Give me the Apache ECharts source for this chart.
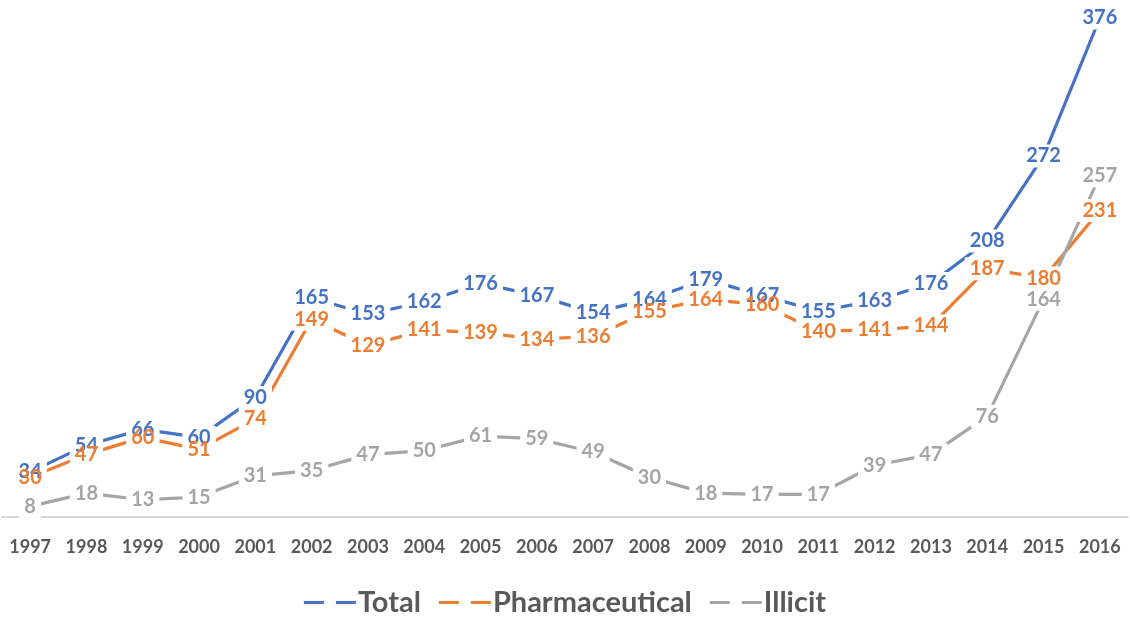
<!DOCTYPE html>
<html>
<head>
<meta charset="utf-8">
<script src="https://cdn.jsdelivr.net/npm/echarts@6/dist/echarts.min.js"></script>
<style>
html,body{margin:0;padding:0;background:#fff;}
#chart{width:1130px;height:617px;}
</style>
</head>
<body>
<div id="chart"></div>
<script>
const years = ['1997','1998','1999','2000','2001','2002','2003','2004','2005','2006','2007','2008','2009','2010','2011','2012','2013','2014','2015','2016'];
const total = [34,54,66,60,90,165,153,162,176,167,154,164,179,167,155,163,176,208,272,376];
const pharmaceutical = [30,47,60,51,74,149,129,141,139,134,136,155,164,160,140,141,144,187,180,231];
const illicit = [8,18,13,15,31,35,47,50,61,59,49,30,18,17,17,39,47,76,164,257];
const seriesNames = ['Total','Pharmaceutical','Illicit'];
const colors = ['#4472C4','#ED7D31','#A5A5A5'];
const labelFont = 'Lato, "Liberation Sans", sans-serif';
const dataSets = [total, pharmaceutical, illicit];

const baseLabel = {
  show: true,
  position: 'inside',
  fontFamily: labelFont,
  fontWeight: 'bold',
  fontSize: 20,
  lineHeight: 16
};

// layer 1: visible lines
function lineSeries(i){
  return {
    name: seriesNames[i], type: 'line', data: dataSets[i], z: 2,
    symbol: 'circle', symbolSize: 0, showSymbol: false,
    lineStyle: {color: colors[i], width: 3.2}, itemStyle: {color: colors[i]},
    emphasis: {disabled: true}, silent: true
  };
}
// layer 2: white boxes behind labels (cut the lines only)
function bgSeries(i){
  return {
    name: seriesNames[i] + ' bg', type: 'line', data: dataSets[i], z: 3,
    symbol: 'circle', symbolSize: 0, showSymbol: true,
    lineStyle: {opacity: 0}, itemStyle: {color: colors[i]},
    label: Object.assign({}, baseLabel, {color: 'rgba(255,255,255,0)', backgroundColor: '#fff', padding: [4, 5, 3, 5]}),
    emphasis: {disabled: true}, silent: true
  };
}
// layer 3: label text on top
function textSeries(i){
  return {
    name: seriesNames[i] + ' txt', type: 'line', data: dataSets[i], z: 4,
    symbol: 'circle', symbolSize: 0, showSymbol: true,
    lineStyle: {opacity: 0}, itemStyle: {color: colors[i]},
    label: Object.assign({}, baseLabel, {color: colors[i], padding: [4, 5, 3, 5]}),
    emphasis: {disabled: true}, silent: true
  };
}

const series = [];
[0,1,2].forEach(i => series.push(lineSeries(i)));
[0,1,2].forEach(i => series.push(bgSeries(i)));
[0,1,2].forEach(i => series.push(textSeries(i)));

const chart = echarts.init(document.getElementById('chart'));
chart.setOption({
  animation: false,
  color: colors,
  grid: {left: 2, right: 2, top: 18, bottom: 100, containLabel: false},
  xAxis: {
    type: 'category',
    data: years,
    boundaryGap: true,
    axisLine: {lineStyle: {color: '#D9D9D9', width: 2}},
    axisTick: {show: false},
    axisLabel: {color: '#595959', fontWeight: 'bold', fontSize: 18, fontFamily: labelFont, margin: 21}
  },
  yAxis: {
    type: 'value',
    min: 0,
    max: 'dataMax',
    show: false,
    splitLine: {show: false}
  },
  legend: {
    top: 583,
    left: 'center',
    itemWidth: 52,
    itemHeight: 3,
    itemGap: 18,
    icon: 'path://M0,0 H20 V3 H0 Z M32,0 H52 V3 H32 Z',
    textStyle: {color: '#595959', fontWeight: 'bold', fontSize: 29, fontFamily: labelFont, padding: [0,0,0,-3]},
    data: seriesNames
  },
  series: series
});
</script>
</body>
</html>
